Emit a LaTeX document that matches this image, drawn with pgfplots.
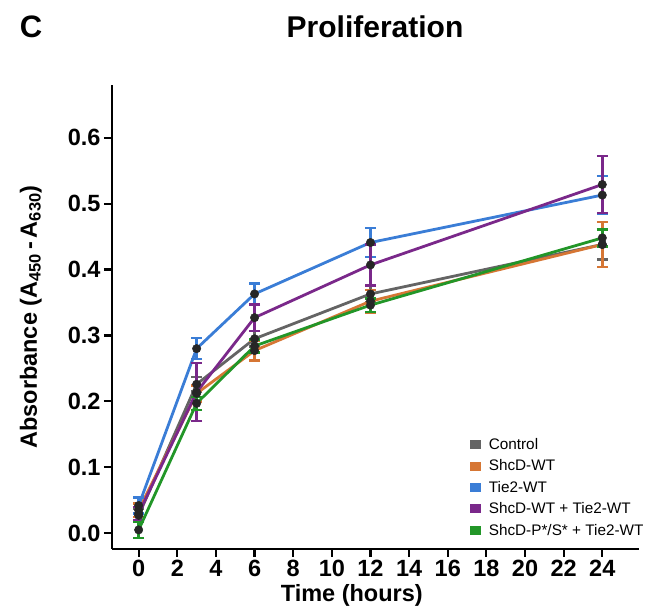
\documentclass[border=0pt]{standalone}
\usepackage{fontspec}
\setmainfont{Liberation Sans}
\usepackage{pgfplots}
\pgfplotsset{compat=1.18}
\usepackage{pgfplotstable}
\usetikzlibrary{calc}

\definecolor{cctrl}{RGB}{100,100,100}
\definecolor{cshcd}{RGB}{214,118,52}
\definecolor{ctie}{RGB}{58,125,214}
\definecolor{cboth}{RGB}{122,40,138}
\definecolor{cmut}{RGB}{34,150,40}

% time, mean, sem
\pgfplotstableread{
t m e
0 0.027 0.010
3 0.226 0.011
6 0.295 0.012
12 0.363 0.012
24 0.438 0.023
}\ctrl
\pgfplotstableread{
t m e
0 0.035 0.010
3 0.212 0.012
6 0.277 0.015
12 0.352 0.017
24 0.438 0.034
}\shcd
\pgfplotstableread{
t m e
0 0.042 0.012
3 0.280 0.016
6 0.363 0.016
12 0.441 0.022
24 0.513 0.029
}\tie
\pgfplotstableread{
t m e
0 0.030 0.010
3 0.214 0.044
6 0.327 0.020
12 0.407 0.031
24 0.529 0.043
}\both
\pgfplotstableread{
t m e
0 0.005 0.012
3 0.197 0.010
6 0.284 0.010
12 0.346 0.010
24 0.448 0.013
}\mut

\pgfplotsset{
 ser/.style={color=#1, line width=2.8pt, mark=*, mark size=4.2pt,
   mark options={fill=black!85,draw=black!85,line width=0.5pt},
   error bars/.cd, y dir=both, y explicit,
   error bar style={line width=2.4pt,#1},
   error mark options={rotate=90,mark size=5.5pt,line width=2.4pt,#1}},
}

\begin{document}
\begin{tikzpicture}
\begin{axis}[
 scale only axis,width=527pt,height=464pt,
 xmin=-1.38,xmax=25.9,ymin=-0.024,ymax=0.68,
 axis lines=left, axis line style={line width=2.6pt,-},
 xtick={0,2,...,24}, ytick={0,0.1,...,0.6},
 tick style={line width=2.2pt,black}, major tick length=8pt,
 tick align=outside,
 yticklabel style={/pgf/number format/.cd,fixed,fixed zerofill,precision=1,assume math mode=true},
 xticklabel style={/pgf/number format/assume math mode=true},
 tick label style={font=\fontsize{23.5}{27}\selectfont\bfseries},
 xlabel={Time (hours)}, ylabel={Absorbance (A\textsubscript{450}\,-\,A\textsubscript{630})},
 label style={font=\fontsize{23.5}{27}\selectfont\bfseries},
 xlabel style={at={(axis description cs:0.455,-0.101)},anchor=center},
 ylabel style={at={(axis description cs:-0.154,0.5)},anchor=center},
 legend style={draw=none,fill=none,font=\fontsize{15.3}{18}\selectfont,
   at={(rel axis cs:0.679,0.243)},anchor=north west,row sep=4.8pt,
   inner sep=0pt},
 legend cell align=left,
 legend image code/.code={\fill[#1] (0pt,-3pt) rectangle (8pt,3pt); \path (14pt,0pt);},
 clip=false,
]
\addplot[ser=cctrl] table[x=t,y=m,y error=e]{\ctrl};
\addlegendentry{Control}
\addplot[ser=cshcd] table[x=t,y=m,y error=e]{\shcd};
\addlegendentry{ShcD-WT}
\addplot[ser=ctie] table[x=t,y=m,y error=e]{\tie};
\addlegendentry{Tie2-WT}
\addplot[ser=cboth] table[x=t,y=m,y error=e]{\both};
\addlegendentry{ShcD-WT + Tie2-WT}
\addplot[ser=cmut] table[x=t,y=m,y error=e]{\mut};
\addlegendentry{ShcD-P*/S* + Tie2-WT}
\end{axis}
\node[font=\fontsize{30}{36}\selectfont\bfseries] at ($(current axis.south west)+(263pt,522pt)$) {Proliferation};
\node[font=\fontsize{31}{36}\selectfont\bfseries] at ($(current axis.south west)+(-81pt,522pt)$) {C};
\pgfresetboundingbox
\useasboundingbox ($(current axis.south west)+(-112pt,-60pt)$) rectangle ($(current axis.north east)+(14pt,85pt)$);
\end{tikzpicture}
\end{document}
